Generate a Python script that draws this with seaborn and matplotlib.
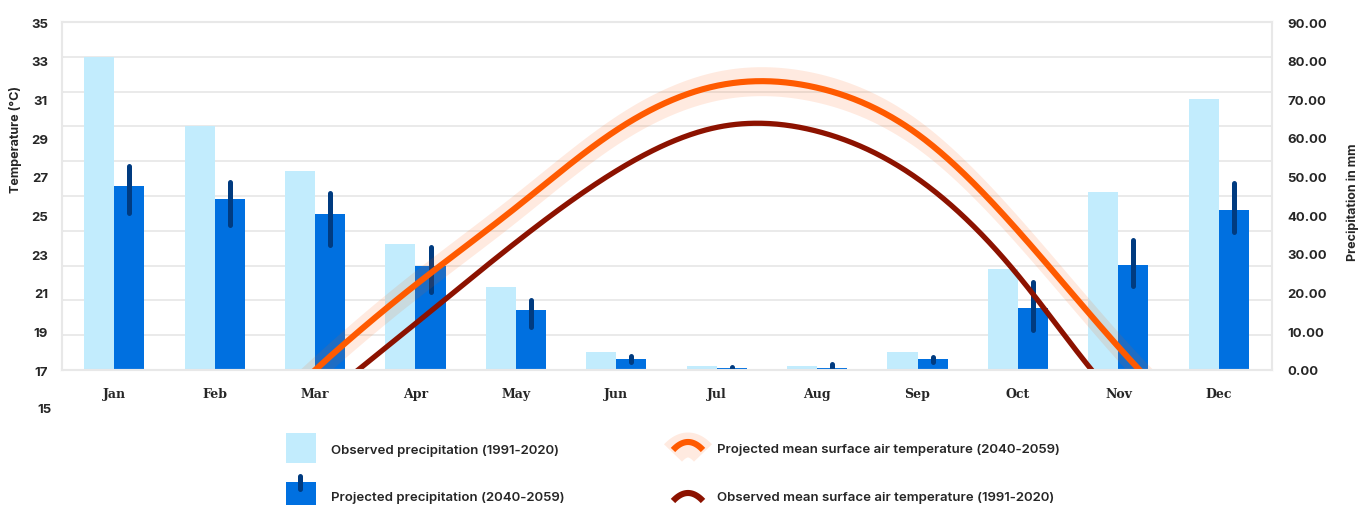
import numpy as np
import pandas as pd
import matplotlib
matplotlib.use("Agg")
import matplotlib.pyplot as plt
from matplotlib.patches import Rectangle
from matplotlib.ticker import FixedLocator, FuncFormatter
import seaborn as sns

# ---- data -------------------------------------------------------------
months = ["Jan", "Feb", "Mar", "Apr", "May", "Jun",
          "Jul", "Aug", "Sep", "Oct", "Nov", "Dec"]

# precipitation, mm
obs_precip = [81.0, 63.0, 51.5, 32.6, 21.5, 4.7, 1.0, 1.0, 4.7, 26.1, 46.0, 70.1]
proj_precip = [47.6, 44.2, 40.3, 27.0, 15.5, 2.8, 0.5, 0.5, 2.8, 16.0, 27.2, 41.4]
proj_precip_low = [40.7, 37.5, 32.2, 20.2, 11.0, 2.1, 0.6, 0.6, 2.0, 10.3, 21.7, 35.8]
proj_precip_high = [52.8, 48.6, 45.8, 31.7, 18.0, 3.5, 0.8, 1.5, 3.3, 22.7, 33.7, 48.4]

# mean surface air temperature, deg C
proj_temp = [11.0, 12.6, 17.0, 21.4, 25.4, 29.4, 31.7, 31.6, 29.2, 24.2, 18.2, 13.2]
proj_temp_low = [10.25, 11.85, 16.25, 20.65, 24.65, 28.65, 30.95, 30.85, 28.45, 23.45, 17.45, 12.45]
proj_temp_high = [11.75, 13.35, 17.75, 22.15, 26.15, 30.15, 32.45, 32.35, 29.95, 24.95, 18.95, 13.95]
obs_temp = [9.5, 11.3, 15.2, 19.4, 23.6, 27.3, 29.55, 29.35, 26.9, 21.9, 15.4, 11.4]

temp_ticks = [17, 19, 21, 23, 25, 27, 29, 31, 33, 35]
precip_ticks = [0, 10, 20, 30, 40, 50, 60, 70, 80, 90]

legend_labels = [
    "Observed precipitation (1991-2020)",
    "Projected precipitation (2040-2059)",
    "Projected mean surface air temperature (2040-2059)",
    "Observed mean surface air temperature (1991-2020)",
]

# ---- style ------------------------------------------------------------
LIGHT = "#C2ECFD"
DARK = "#0070E0"
NAVY = "#003B80"
ORANGE = "#FF5A00"
DARKRED = "#8C1200"
GRID = "#E8E8E8"
TEXT = "#262626"


def periodic_spline(vals, t):
    """Periodic cubic spline through monthly values (unit spacing)."""
    y = np.asarray(vals, float)
    n = len(y)
    eye = np.eye(n)
    A = 4 * eye + np.roll(eye, 1, axis=1) + np.roll(eye, -1, axis=1)
    rhs = 6 * (np.roll(y, -1) - 2 * y + np.roll(y, 1))
    M = np.linalg.solve(A, rhs)
    i = np.floor(t).astype(int)
    u = t - i
    i0, i1 = i % n, (i + 1) % n
    return (M[i0] * (1 - u) ** 3 / 6 + M[i1] * u ** 3 / 6
            + (y[i0] - M[i0] / 6) * (1 - u) + (y[i1] - M[i1] / 6) * u)


sns.set_theme(style="white")
plt.rcParams["font.family"] = ["Inter", "DejaVu Sans"]

W, H = 1369, 506
fig = plt.figure(figsize=(W / 100, H / 100), dpi=100)
L, R, T, B = 62, 1272, 23, 371
ax = fig.add_axes([L / W, 1 - B / H, (R - L) / W, (B - T) / H])

# ---- precipitation bars ------------------------------------------------
df = pd.DataFrame({
    "month": months * 2,
    "precip": obs_precip + proj_precip,
    "series": [legend_labels[0]] * 12 + [legend_labels[1]] * 12,
})
sns.barplot(data=df, x="month", y="precip", hue="series",
            hue_order=legend_labels[:2], palette=[LIGHT, DARK],
            width=0.6, errorbar=None, saturation=1, legend=False,
            linewidth=0, ax=ax, zorder=2)
ax.vlines(np.arange(12) + 0.15, proj_precip_low, proj_precip_high,
          colors=NAVY, linewidth=3.6, capstyle="round", zorder=3)

# ---- temperature axis (drawn on top of the bars) -----------------------
ax2 = ax.twinx()

ax.set_xlim(-0.52, 11.53)
ax.set_ylim(0, 90)
ax.set_xlabel("")
ax.yaxis.tick_right()
ax.yaxis.set_label_position("right")
ax.set_yticks(precip_ticks)
ax.yaxis.set_major_formatter(FuncFormatter(lambda v, p: f"{v:.2f}"))
ax.yaxis.set_minor_locator(FixedLocator(np.linspace(0, 90, 11)))
ax.grid(False)
ax.grid(which="minor", axis="y", color=GRID, linewidth=1.3, zorder=0)
ax.set_axisbelow(True)
ax.tick_params(which="both", length=0)
ax.tick_params(axis="y", pad=11, labelsize=9.5, labelcolor=TEXT)
ax.tick_params(axis="x", pad=12, labelcolor=TEXT)
ax.set_ylabel("Precipitation in mm", fontsize=9, fontweight="bold", color=TEXT)
ax.yaxis.set_label_coords(1.0612, 0.484)

ax2.set_ylim(17, 35)
ax2.yaxis.tick_left()
ax2.yaxis.set_label_position("left")
ax2.set_yticks(temp_ticks)
ax2.tick_params(which="both", length=0)
ax2.tick_params(axis="y", pad=10, labelsize=9.5, labelcolor=TEXT)
ax2.text(-10 / (R - L), 15, "15", transform=ax2.get_yaxis_transform(),
         ha="right", va="center", fontsize=9.5, fontweight="bold",
         color=TEXT, clip_on=False)
ax2.set_ylabel("Temperature (°C)", fontsize=9, fontweight="bold", color=TEXT)
ax2.yaxis.set_label_coords(-0.033, 0.665)

for lab in ax.get_yticklabels() + ax2.get_yticklabels():
    lab.set_fontweight("bold")
for lab in ax.get_xticklabels():
    lab.set_fontfamily("DejaVu Serif")
    lab.set_fontweight("bold")
    lab.set_fontsize(9)

xs = np.linspace(-0.52, 11.53, 800)
ax2.fill_between(xs, periodic_spline(proj_temp_low, xs),
                 periodic_spline(proj_temp_high, xs),
                 color=ORANGE, alpha=0.12, linewidth=0)
ax2.plot(xs, periodic_spline(proj_temp, xs), color=ORANGE, linewidth=4.4,
         solid_capstyle="butt")
ax2.plot(xs, periodic_spline(obs_temp, xs), color=DARKRED, linewidth=3.8,
         solid_capstyle="butt")

for a in (ax, ax2):
    for s in a.spines.values():
        s.set_visible(True)
        s.set_color(GRID)
        s.set_linewidth(1.5)

# ---- legend ------------------------------------------------------------
lg = fig.add_axes([0, 0, 1, 1])
lg.set_xlim(0, W)
lg.set_ylim(H, 0)
lg.axis("off")
lg.add_patch(Rectangle((286, 434), 30, 30, color=LIGHT, linewidth=0))
lg.add_patch(Rectangle((286, 483), 30, 30, color=DARK, linewidth=0))
lg.plot([300, 300], [477, 490], color=NAVY, linewidth=3.6,
        solid_capstyle="round")

arc_x = np.linspace(673, 703, 40)
arc_y = 443 + 8 * ((arc_x - 688) / 15) ** 2
lg.plot(arc_x, arc_y + 3, color=ORANGE, alpha=0.12, linewidth=18,
        solid_capstyle="butt")
lg.plot(arc_x, arc_y, color=ORANGE, linewidth=4.4, solid_capstyle="butt")
lg.plot(arc_x, arc_y + 51, color=DARKRED, linewidth=4.4, solid_capstyle="butt")

text_kw = dict(va="center", ha="left", fontsize=9.5, fontweight="semibold",
               color=TEXT)
lg.text(331, 451, legend_labels[0], **text_kw)
lg.text(331, 498, legend_labels[1], **text_kw)
lg.text(717, 450, legend_labels[2], **text_kw)
lg.text(717, 498, legend_labels[3], **text_kw)

fig.savefig("out.png", dpi=100)
